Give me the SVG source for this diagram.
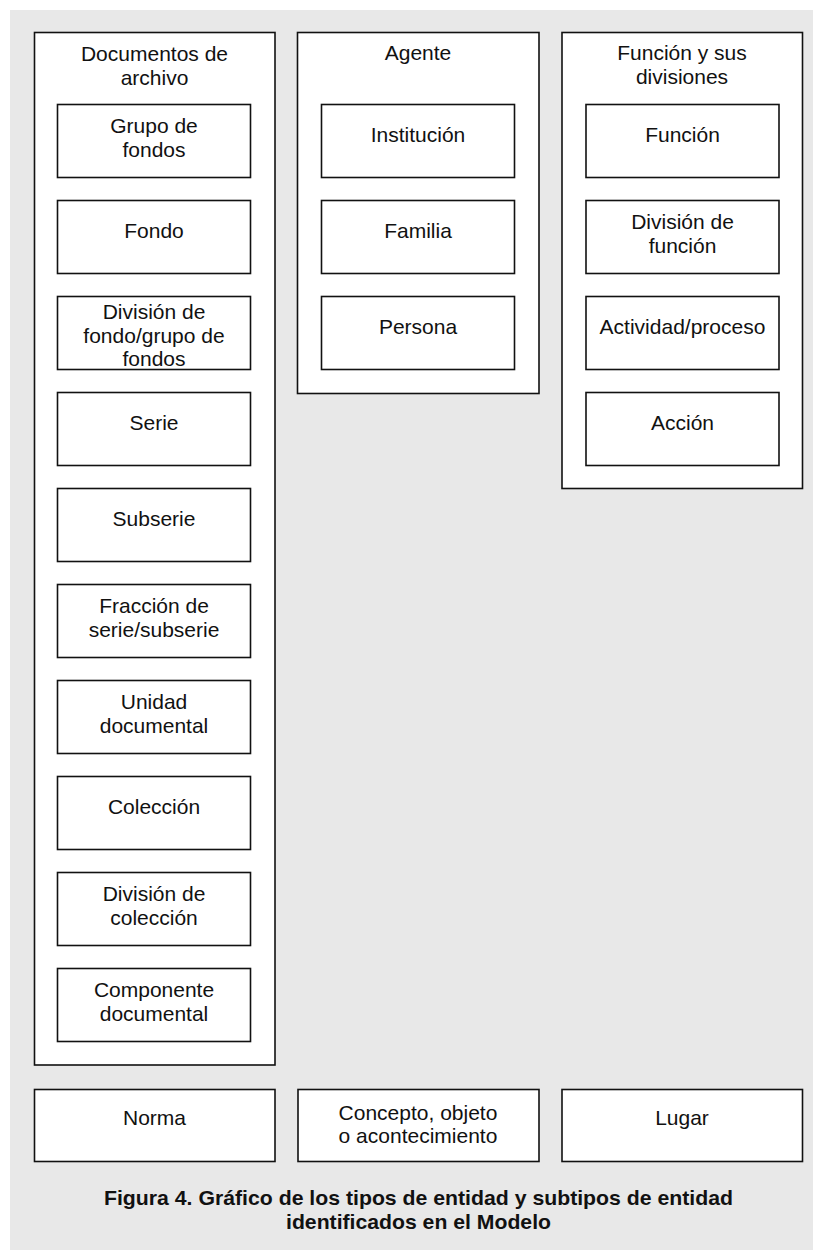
<svg xmlns="http://www.w3.org/2000/svg" width="813" height="1251" viewBox="0 0 813 1251">
<style>
.box{fill:#fff;stroke:#111;stroke-width:1.6}
.t{font-family:"Liberation Sans",Arial,sans-serif;font-size:21px;fill:#111;text-anchor:middle}
.cap{font-family:"Liberation Sans",Arial,sans-serif;font-size:20.5px;font-weight:bold;fill:#111;text-anchor:middle}
</style>
<rect x="0" y="0" width="813" height="1251" fill="#fff"/>
<rect x="10" y="10" width="803" height="1240" fill="#e8e8e8"/>

<g id="documentos">
<rect class="box" x="34.5" y="32.5" width="240.5" height="1032.5"/>
<text class="t" x="154.5" y="61">Documentos de</text>
<text class="t" x="154.5" y="84.5">archivo</text>
</g>
<g id="agente">
<rect class="box" x="297.5" y="32.5" width="241.5" height="361"/>
<text class="t" x="418" y="60">Agente</text>
</g>
<g id="funcion-grupo">
<rect class="box" x="562" y="32.5" width="240.5" height="456"/>
<text class="t" x="682" y="60">Función y sus</text>
<text class="t" x="682" y="83.5">divisiones</text>
</g>

<g id="grupo-fondos"><rect class="box" x="57.5" y="104.5" width="193" height="73"/>
<text class="t" x="154" y="133">Grupo de</text><text class="t" x="154" y="157">fondos</text></g>
<g id="fondo"><rect class="box" x="57.5" y="200.5" width="193" height="73"/>
<text class="t" x="154" y="238">Fondo</text></g>
<g id="division-fondo"><rect class="box" x="57.5" y="296.5" width="193" height="73"/>
<text class="t" x="154" y="318.5">División de</text><text class="t" x="154" y="342.5">fondo/grupo de</text><text class="t" x="154" y="366">fondos</text></g>
<g id="serie"><rect class="box" x="57.5" y="392.5" width="193" height="73"/>
<text class="t" x="154" y="430">Serie</text></g>
<g id="subserie"><rect class="box" x="57.5" y="488.5" width="193" height="73"/>
<text class="t" x="154" y="526">Subserie</text></g>
<g id="fraccion"><rect class="box" x="57.5" y="584.5" width="193" height="73"/>
<text class="t" x="154" y="613">Fracción de</text><text class="t" x="154" y="637">serie/subserie</text></g>
<g id="unidad"><rect class="box" x="57.5" y="680.5" width="193" height="73"/>
<text class="t" x="154" y="709">Unidad</text><text class="t" x="154" y="733">documental</text></g>
<g id="coleccion"><rect class="box" x="57.5" y="776.5" width="193" height="73"/>
<text class="t" x="154" y="814">Colección</text></g>
<g id="division-coleccion"><rect class="box" x="57.5" y="872.5" width="193" height="73"/>
<text class="t" x="154" y="901">División de</text><text class="t" x="154" y="925">colección</text></g>
<g id="componente"><rect class="box" x="57.5" y="968.5" width="193" height="73"/>
<text class="t" x="154" y="997">Componente</text><text class="t" x="154" y="1021">documental</text></g>

<g id="institucion"><rect class="box" x="321.5" y="104.5" width="193" height="73"/>
<text class="t" x="418" y="142">Institución</text></g>
<g id="familia"><rect class="box" x="321.5" y="200.5" width="193" height="73"/>
<text class="t" x="418" y="238">Familia</text></g>
<g id="persona"><rect class="box" x="321.5" y="296.5" width="193" height="73"/>
<text class="t" x="418" y="334">Persona</text></g>

<g id="funcion"><rect class="box" x="586" y="104.5" width="193" height="73"/>
<text class="t" x="682.5" y="142">Función</text></g>
<g id="division-funcion"><rect class="box" x="586" y="200.5" width="193" height="73"/>
<text class="t" x="682.5" y="229">División de</text><text class="t" x="682.5" y="253">función</text></g>
<g id="actividad"><rect class="box" x="586" y="296.5" width="193" height="73"/>
<text class="t" x="682.5" y="334">Actividad/proceso</text></g>
<g id="accion"><rect class="box" x="586" y="392.5" width="193" height="73"/>
<text class="t" x="682.5" y="430">Acción</text></g>

<g id="norma"><rect class="box" x="34.5" y="1089.5" width="240.5" height="72"/>
<text class="t" x="154.5" y="1125">Norma</text></g>
<g id="concepto"><rect class="box" x="298" y="1089.5" width="241" height="72"/>
<text class="t" x="418" y="1119.5">Concepto, objeto</text><text class="t" x="418" y="1143">o acontecimiento</text></g>
<g id="lugar"><rect class="box" x="562" y="1089.5" width="240.5" height="72"/>
<text class="t" x="682" y="1125">Lugar</text></g>

<g id="connectors"></g>

<g id="caption">
<text class="cap" x="418.5" y="1205" textLength="629" lengthAdjust="spacingAndGlyphs">Figura 4. Gráfico de los tipos de entidad y subtipos de entidad</text>
<text class="cap" x="418.5" y="1229" textLength="265" lengthAdjust="spacingAndGlyphs">identificados en el Modelo</text>
</g>
</svg>
